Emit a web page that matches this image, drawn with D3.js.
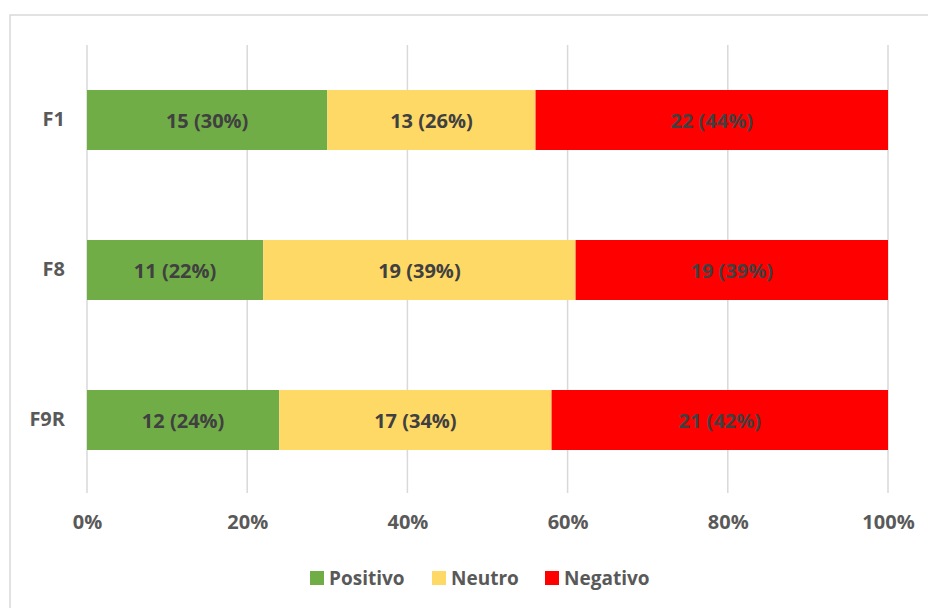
<!DOCTYPE html>
<html><head><meta charset="utf-8">
<script src="https://cdn.jsdelivr.net/npm/d3@7"></script>
<style>body{margin:0;background:#fff}svg{display:block}text{font-family:"Open Sans","Liberation Sans",sans-serif;font-weight:bold}</style>
</head><body>
<svg id="c" width="928" height="608"></svg>
<script>
const categories = ["F1", "F8", "F9R"];
const seriesNames = ["Positivo", "Neutro", "Negativo"];
const counts = [[15, 13, 22], [11, 19, 19], [12, 17, 21]];
const percents = [[30, 26, 44], [22, 39, 39], [24, 34, 42]];
const ticks = [0, 20, 40, 60, 80, 100];
const colors = ["#70ad47", "#ffd966", "#ff0000"];

const svg = d3.select("#c");
svg.append("rect").attr("x", 10).attr("y", 15).attr("width", 930).attr("height", 610)
  .attr("fill", "#fff").attr("stroke", "#d9d9d9").attr("stroke-width", 1.5);

const x = d3.scaleLinear().domain([0, 100]).range([87, 888]);
const y = d3.scaleBand().domain(categories).range([45, 495]).paddingInner(0.6).paddingOuter(0.3);

svg.append("g").selectAll("line").data(ticks).join("line")
  .attr("x1", d => x(d)).attr("x2", d => x(d)).attr("y1", 45).attr("y2", 493)
  .attr("stroke", "#d9d9d9").attr("stroke-width", 1.5);

const stacked = categories.map((c, i) => {
  let acc = 0;
  return percents[i].map((p, j) => {
    const s = { cat: c, j, x0: acc, x1: acc + p, label: `${counts[i][j]} (${p}%)` };
    acc += p; return s;
  });
}).flat();

svg.append("g").selectAll("rect").data(stacked).join("rect")
  .attr("x", d => x(d.x0)).attr("width", d => x(d.x1) - x(d.x0))
  .attr("y", d => y(d.cat)).attr("height", y.bandwidth())
  .attr("fill", d => colors[d.j]);

svg.append("g").selectAll("text").data(stacked).join("text")
  .attr("x", d => (x(d.x0) + x(d.x1)) / 2).attr("y", d => y(d.cat) + y.bandwidth() / 2)
  .attr("text-anchor", "middle").attr("dominant-baseline", "central")
  .attr("font-size", 20).attr("fill", "#404040").text(d => d.label);

const xa = svg.append("g").attr("transform", "translate(0,510)")
  .call(d3.axisBottom(x).tickValues(ticks).tickFormat(d => d + "%").tickSize(0).tickPadding(5));
xa.select(".domain").remove();
xa.selectAll("text").attr("font-size", 20).attr("fill", "#595959")
  .style("font-family", '"Open Sans","Liberation Sans",sans-serif').style("font-weight", "bold");

const ya = svg.append("g").attr("transform", "translate(87,0)")
  .call(d3.axisLeft(y).tickSize(0).tickPadding(22));
ya.select(".domain").remove();
ya.selectAll("text").attr("font-size", 20).attr("fill", "#595959")
  .style("font-family", '"Open Sans","Liberation Sans",sans-serif').style("font-weight", "bold");

const legendX = [310, 432, 545];
const lg = svg.append("g").selectAll("g").data(seriesNames).join("g")
  .attr("transform", (d, i) => `translate(${legendX[i]},578)`);
lg.append("rect").attr("x", 0).attr("y", -7).attr("width", 14).attr("height", 14).attr("fill", (d, i) => colors[i]);
lg.append("text").attr("x", 19).attr("y", 0).attr("dominant-baseline", "central")
  .attr("font-size", 19).attr("fill", "#595959").text(d => d);
</script>
</body></html>
